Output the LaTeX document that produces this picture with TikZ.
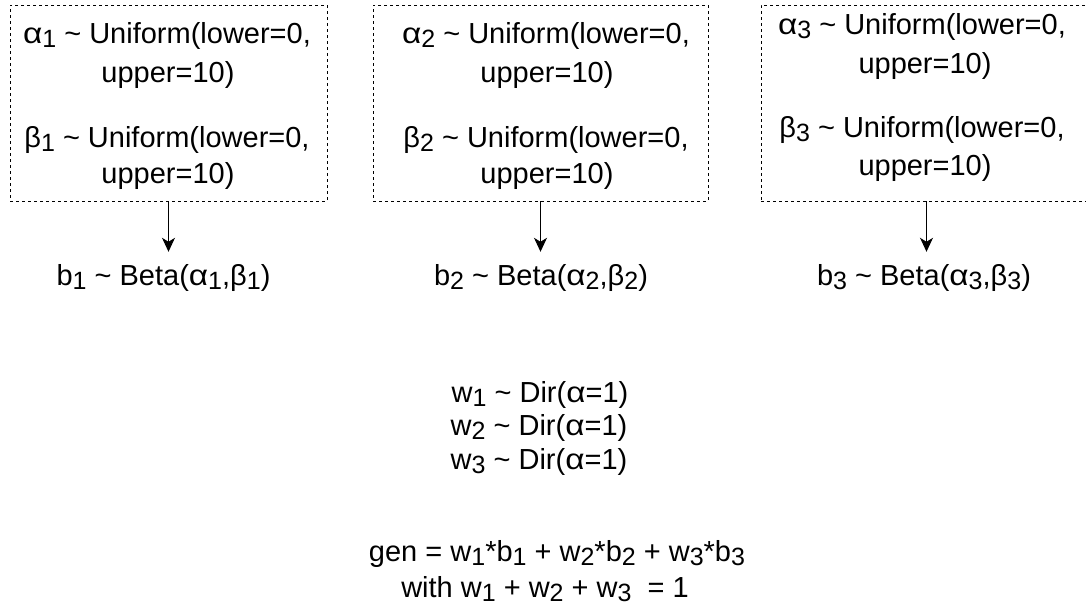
\documentclass[tikz,border=0pt]{standalone}
\usepackage{fontspec}
\setmainfont{Liberation Sans}
\usetikzlibrary{arrows.meta}

% subscript index, slightly smaller and lowered
\newcommand\lowidx[1]{\raisebox{-4pt}{\fontsize{25}{25}\selectfont #1}}
% a rather wide alpha
\newcommand\galpha{\scalebox{1.15}[1]{α}}
\newcommand\tld{\textasciitilde}

\begin{document}
\begin{tikzpicture}[x=1pt,y=-1pt,
  txt/.style={anchor=base,inner sep=0pt,font=\fontsize{29}{35}\selectfont},
  dbox/.style={draw,dash pattern=on 3pt off 3pt,line width=1pt,
               inner sep=0pt,outer sep=0pt,minimum height=196pt},
  arr/.style={-{Stealth[length=14pt,width=13pt,inset=4pt]},line width=1pt,
              shorten >=12pt}
]
\clip (0,0) rectangle (1086,613);
\useasboundingbox (0,0) rectangle (1086,613);

% prior boxes
\node[dbox,minimum width=317pt] (u1) at (168.5,103) {};
\node[dbox,minimum width=335pt] (u2) at (540.5,103) {};
\node[dbox,minimum width=331pt] (u3) at (926.5,103) {};

% first prior
\node[txt] (p1a) at (167,43)  {\galpha\lowidx{1} \tld{} Uniform(lower=0,};
\node[txt] (p1b) at (168,82)  {upper=10)};
\node[txt] (p1c) at (167,147) {β\lowidx{1} \tld{} Uniform(lower=0,};
\node[txt] (p1d) at (168,183) {upper=10)};

% second prior
\node[txt] (p2a) at (546,43)  {\galpha\lowidx{2} \tld{} Uniform(lower=0,};
\node[txt] (p2b) at (547,82)  {upper=10)};
\node[txt] (p2c) at (546,147) {β\lowidx{2} \tld{} Uniform(lower=0,};
\node[txt] (p2d) at (547,183) {upper=10)};

% third prior
\node[txt] (p3a) at (922,34)  {\galpha\lowidx{3} \tld{} Uniform(lower=0,};
\node[txt] (p3b) at (925,73)  {upper=10)};
\node[txt] (p3c) at (922,137) {β\lowidx{3} \tld{} Uniform(lower=0,};
\node[txt] (p3d) at (925,175) {upper=10)};

% beta components
\node[txt] (b1) at (163.5,285) {b\lowidx{1} \tld{} Beta(\galpha\lowidx{1},β\lowidx{1})};
\node[txt] (b2) at (541,285)   {b\lowidx{2} \tld{} Beta(\galpha\lowidx{2},β\lowidx{2})};
\node[txt] (b3) at (924,285)   {b\lowidx{3} \tld{} Beta(\galpha\lowidx{3},β\lowidx{3})};

\draw[arr] (u1.south) -- (u1.south |- b1.north);
\draw[arr] (u2.south) -- (u2.south |- b2.north);
\draw[arr] (u3.south) -- (u3.south |- b3.north);

% mixture weights
\node[txt] (w1) at (540,402) {w\lowidx{1} \tld{} Dir(\galpha=1)};
\node[txt] (w2) at (539,435) {w\lowidx{2} \tld{} Dir(\galpha=1)};
\node[txt] (w3) at (539,469) {w\lowidx{3} \tld{} Dir(\galpha=1)};

% mixture
\node[txt] (gen) at (557,561) {gen = w\lowidx{1}*b\lowidx{1} + w\lowidx{2}*b\lowidx{2} + w\lowidx{3}*b\lowidx{3}};
\node[txt] (sum) at (545,597) {with w\lowidx{1} + w\lowidx{2} + w\lowidx{3}\ \ = 1};
\end{tikzpicture}
\end{document}
